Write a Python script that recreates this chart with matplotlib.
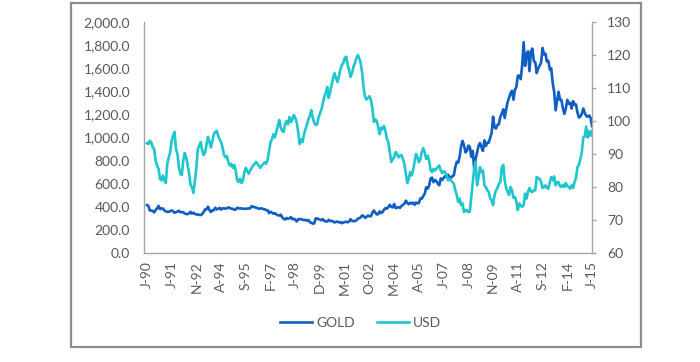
import matplotlib
matplotlib.use("Agg")
import matplotlib.pyplot as plt
from matplotlib.patches import Rectangle
from matplotlib.ticker import FuncFormatter
import numpy as np

# Monthly data, Jan 1990 - Jul 2015
gold = [
    415, 408, 368, 368, 363, 352, 372, 387, 408, 380, 384, 386,   # 1990
    367, 362, 356, 357, 362, 368, 362, 348, 354, 358, 366, 353,   # 1991
    354, 353, 342, 337, 337, 343, 357, 340, 349, 339, 334, 333,   # 1992
    330, 328, 337, 355, 378, 378, 401, 372, 355, 370, 370, 392,   # 1993
    378, 381, 391, 376, 387, 386, 384, 386, 395, 390, 383, 383,   # 1994
    375, 376, 391, 389, 385, 387, 383, 382, 384, 383, 387, 387,   # 1995
    405, 400, 396, 393, 390, 382, 385, 387, 379, 379, 371, 369,   # 1996
    345, 358, 349, 340, 345, 334, 326, 325, 332, 311, 296, 290,   # 1997
    303, 297, 301, 310, 293, 296, 288, 273, 293, 292, 294, 288,   # 1998
    285, 287, 280, 286, 268, 261, 255, 255, 299, 300, 292, 290,   # 1999
    283, 293, 277, 274, 272, 288, 277, 277, 273, 264, 270, 272,   # 2000
    265, 267, 258, 264, 268, 271, 266, 273, 293, 279, 275, 277,   # 2001
    282, 297, 301, 309, 326, 318, 305, 313, 324, 317, 319, 348,   # 2002
    368, 350, 334, 336, 361, 346, 354, 375, 388, 384, 398, 417,   # 2003
    399, 395, 424, 388, 393, 396, 391, 407, 416, 426, 453, 435,   # 2004
    422, 435, 428, 436, 418, 437, 430, 433, 473, 470, 495, 513,   # 2005
    569, 557, 582, 645, 653, 613, 633, 623, 600, 586, 646, 632,   # 2006
    650, 665, 662, 677, 659, 650, 665, 672, 743, 789, 783, 834,   # 2007
    923, 971, 933, 871, 885, 930, 918, 833, 884, 730, 815, 870,   # 2008
    928, 952, 916, 884, 975, 926, 955, 955, 996, 1040, 1180, 1087,  # 2009
    1078, 1109, 1115, 1180, 1207, 1244, 1169, 1246, 1307, 1346, 1383, 1405,  # 2010
    1327, 1411, 1439, 1535, 1536, 1505, 1628, 1825, 1620, 1722, 1746, 1575,  # 2011
    1744, 1770, 1662, 1651, 1558, 1598, 1622, 1648, 1776, 1719, 1726, 1657,  # 2012
    1664, 1588, 1598, 1470, 1394, 1235, 1315, 1396, 1327, 1324, 1253, 1205,  # 2013
    1251, 1326, 1292, 1300, 1251, 1315, 1285, 1285, 1217, 1173, 1182, 1206,  # 2014
    1251, 1214, 1187, 1180, 1191, 1172, 1098,                               # 2015
]

usd = [
    93.3, 93.0, 94.0, 93.5, 92.0, 91.5, 88.0, 86.5, 85.5, 82.5, 82.0, 83.5,   # 1990
    82.0, 81.2, 87.0, 89.0, 90.5, 94.0, 95.5, 96.7, 91.5, 90.0, 86.0, 84.0,   # 1991
    83.6, 88.0, 90.3, 89.0, 86.7, 84.0, 80.6, 80.0, 78.2, 82.0, 85.8, 91.5,   # 1992
    92.5, 93.6, 91.0, 89.7, 90.5, 93.0, 95.2, 93.6, 92.0, 94.0, 96.0, 96.7,   # 1993
    97.0, 95.5, 94.5, 93.6, 92.0, 89.7, 89.0, 89.4, 87.5, 86.5, 87.0, 85.8,   # 1994
    86.7, 85.0, 82.1, 81.5, 82.5, 81.2, 82.0, 84.5, 85.8, 84.8, 84.0, 85.0,   # 1995
    85.8, 86.5, 87.0, 87.6, 87.0, 86.4, 85.8, 86.5, 87.0, 87.5, 87.0, 88.3,   # 1996
    91.0, 93.6, 94.5, 96.0, 95.0, 96.7, 98.5, 100.3, 98.0, 97.0, 96.7, 99.0,  # 1997
    100.0, 99.0, 101.2, 99.7, 100.5, 101.8, 101.0, 99.5, 96.7, 93.0, 94.5, 93.6,  # 1998
    96.0, 97.5, 98.8, 100.5, 101.5, 103.3, 101.0, 99.5, 98.8, 99.0, 101.0, 102.4,  # 1999
    103.5, 105.5, 107.3, 108.5, 110.3, 107.0, 108.8, 111.0, 113.0, 114.5, 113.0, 111.8,  # 2000
    113.5, 115.5, 117.0, 117.5, 119.1, 119.5, 117.0, 115.5, 113.4, 114.5, 116.5, 117.5,  # 2001
    119.0, 120.0, 119.0, 117.5, 114.5, 110.0, 107.3, 106.5, 107.0, 107.5, 106.4, 104.0,  # 2002
    99.7, 100.5, 100.0, 98.2, 96.0, 98.0, 97.5, 98.5, 97.0, 94.5, 93.6, 90.5,  # 2003
    87.6, 88.5, 89.0, 90.6, 90.0, 89.0, 89.5, 89.7, 88.5, 87.0, 84.0, 81.2,   # 2004
    82.5, 84.5, 83.5, 85.0, 87.6, 90.0, 89.0, 87.5, 88.5, 90.6, 91.8, 90.5,   # 2005
    88.5, 89.5, 88.0, 85.2, 84.5, 85.5, 85.0, 85.5, 86.1, 86.5, 85.0, 84.2,   # 2006
    84.8, 84.5, 83.6, 82.0, 82.5, 82.0, 81.5, 81.0, 79.0, 77.6, 75.5, 76.5,   # 2007
    74.5, 75.0, 72.4, 73.0, 73.0, 72.4, 72.6, 77.0, 81.5, 85.5, 87.6, 80.5,   # 2008
    83.0, 86.0, 84.5, 85.0, 80.6, 80.0, 79.0, 78.5, 76.5, 76.0, 74.5, 77.5,   # 2009
    79.0, 79.7, 81.0, 81.5, 86.0, 86.7, 82.0, 79.7, 78.5, 77.6, 80.0, 79.0,   # 2010
    76.7, 77.0, 75.5, 73.0, 75.0, 74.3, 74.0, 74.5, 78.0, 76.5, 78.5, 79.7,   # 2011
    78.7, 78.5, 79.0, 79.0, 83.0, 82.7, 82.5, 81.5, 79.7, 80.0, 80.5, 79.7,   # 2012
    79.5, 81.5, 83.0, 82.0, 83.2, 80.5, 81.5, 81.5, 80.2, 80.0, 80.7, 80.0,   # 2013
    81.2, 80.3, 80.0, 79.5, 80.5, 79.7, 81.5, 82.8, 86.0, 86.7, 88.5, 90.5,   # 2014
    95.0, 95.3, 98.3, 95.0, 96.9, 95.5, 97.0,                                 # 2015
]

tick_labels = ["J-90", "J-91", "N-92", "A-94", "S-95", "F-97", "J-98", "D-99",
               "M-01", "O-02", "M-04", "A-05", "J-07", "J-08", "N-09", "A-11",
               "S-12", "F-14", "J-15"]
tick_step = 17  # months between labels

series_names = ["GOLD", "USD"]
gold_color = "#0F5EC4"
usd_color = "#1FC5CF"
text_color = "#595959"
axis_color = "#A6A6A6"

plt.rcParams["font.family"] = ["Lato", "DejaVu Sans"]

fig = plt.figure(figsize=(7.0, 3.62), dpi=100)
fig.patch.set_facecolor("white")
ax = fig.add_axes([144/700, 1-253/362, (592-144)/700, (253-22)/362])
ax2 = ax.twinx()

x = np.arange(len(gold))
l1, = ax.plot(x, gold, color=gold_color, lw=1.9, solid_joinstyle="round", label=series_names[0])
l2, = ax2.plot(np.arange(len(usd)), usd, color=usd_color, lw=1.9, solid_joinstyle="round", label=series_names[1])

ax.set_ylim(0, 2000)
ax.set_yticks(np.arange(0, 2001, 200))
ax.yaxis.set_major_formatter(FuncFormatter(lambda v, p: f"{v:,.1f}"))
ax2.set_ylim(60, 130)
ax2.set_yticks(np.arange(60, 131, 10))

ticks = np.arange(0, 18 * tick_step + 1, tick_step)
ax.set_xticks(ticks)
ax.set_xticklabels(tick_labels[:len(ticks)], rotation=90)
ax.set_xlim(-2, 306)

for a in (ax, ax2):
    for s in a.spines.values():
        s.set_visible(False)
ax.spines["left"].set_visible(True)
ax.spines["bottom"].set_visible(True)
ax2.spines["right"].set_visible(True)
for s in (ax.spines["left"], ax.spines["bottom"], ax2.spines["right"]):
    s.set_color(axis_color)
    s.set_linewidth(1.0)

ax.tick_params(axis="y", length=0, pad=10, labelsize=10, labelcolor=text_color)
ax.tick_params(axis="x", length=0, pad=6, labelsize=10, labelcolor=text_color)
ax2.tick_params(axis="y", length=3, width=1, color=axis_color, pad=8, labelsize=10, labelcolor=text_color)

fig.legend(handles=[l1, l2], loc="center", bbox_to_anchor=(0.515, 1-323/362),
           ncol=2, frameon=False, fontsize=10, handlelength=2.3, handletextpad=0.3,
           columnspacing=1.6, labelcolor=text_color)

fig.patches.append(Rectangle((71/700, 1-347/362), (641-71)/700, (347-3)/362,
                             transform=fig.transFigure, fill=False,
                             edgecolor="#8C8C8C", linewidth=1.6))

fig.savefig("out.png", dpi=100, facecolor="white")
